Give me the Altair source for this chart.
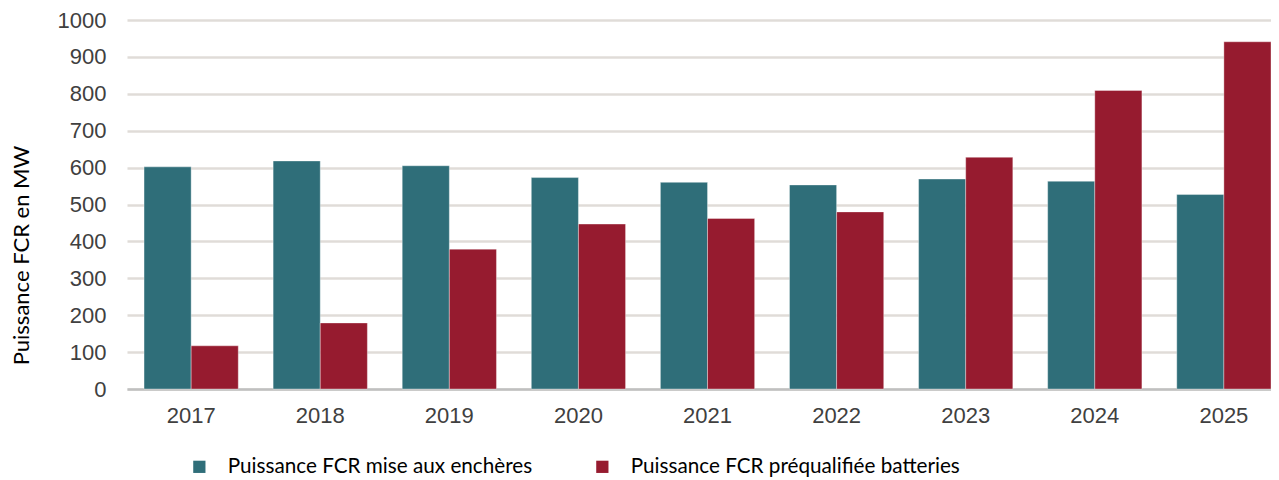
import altair as alt
import pandas as pd

years = ["2017", "2018", "2019", "2020", "2021", "2022", "2023", "2024", "2025"]
encheres = [602, 618, 605, 573, 560, 553, 569, 563, 527]
batteries = [117, 179, 379, 447, 462, 480, 628, 809, 941]
series = ["Puissance FCR mise aux enchères", "Puissance FCR préqualifiée batteries"]
colors = ["#2F6E79", "#961B2F"]

rows = []
for i, y in enumerate(years):
    rows.append({"annee": y, "serie": series[0], "valeur": encheres[i]})
    rows.append({"annee": y, "serie": series[1], "valeur": batteries[i]})
df = pd.DataFrame(rows)

chart = alt.Chart(df).mark_bar(stroke="#ffffff", strokeWidth=0.6, strokeOpacity=0.6).encode(
    x=alt.X("annee:N", sort=years,
            scale=alt.Scale(paddingInner=0.27, paddingOuter=0.066, align=1),
            axis=alt.Axis(title=None, labelAngle=0, labelFont="Liberation Sans",
                          labelFontSize=22, labelColor="#404040", labelPadding=16,
                          ticks=False, domainColor="#c0c0c0", domainWidth=2.5,
                          grid=False)),
    xOffset=alt.XOffset("serie:N", sort=series, scale=alt.Scale(paddingInner=0, paddingOuter=0)),
    y=alt.Y("valeur:Q", scale=alt.Scale(domain=[0, 1000], nice=False),
            axis=alt.Axis(values=list(range(0, 1001, 100)), format="d",
                          title="Puissance FCR en MW",
                          labelFont="Liberation Sans", labelFontSize=22,
                          labelColor="#404040", labelPadding=21, ticks=False,
                          domain=False, gridColor="#e0dcd8", gridWidth=2.5,
                          titleFont="Lato", titleFontSize=22, titleFontWeight="normal",
                          titleColor="#000000", titleAngle=-90, titleX=-106,
                          titleY=235, titleAlign="center", titleBaseline="middle")),
    color=alt.Color("serie:N", sort=series,
                    scale=alt.Scale(domain=series, range=colors),
                    legend=alt.Legend(title=None, orient="none", direction="horizontal",
                                      legendX=62, legendY=66 + 369 + 1,
                                      symbolType="square", symbolSize=150,
                                      symbolStrokeWidth=0, labelFont="Lato",
                                      labelFontSize=20.7, labelColor="#000000",
                                      labelOffset=18, columnPadding=59,
                                      labelLimit=500)),
).properties(
    width=1144, height=369,
    autosize=alt.AutoSizeParams(type="none"),
    padding={"left": 119, "top": 12, "right": 0, "bottom": 90},
).configure_view(stroke=None)

chart.save("out.html", embed_options={"renderer": "svg", "actions": False})
